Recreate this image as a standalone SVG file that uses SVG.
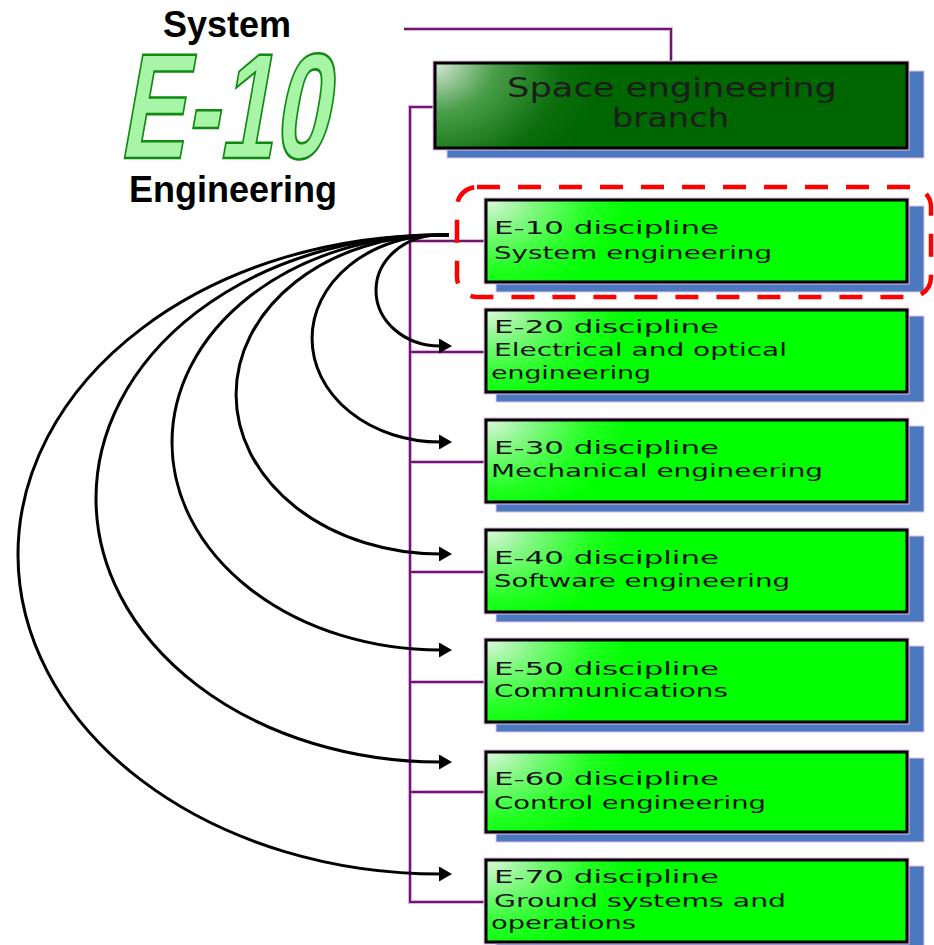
<svg xmlns="http://www.w3.org/2000/svg" width="934" height="945" viewBox="0 0 934 945">
<style>
  .halo{fill:none;stroke:#e8b8e8;stroke-width:5}
  .box{stroke:#000;stroke-width:3}
  .shadow{fill:#4b79c0;stroke:#e8c0e8;stroke-width:1}
  .dtxt{font-family:"DejaVu Sans","Liberation Sans",sans-serif;font-size:18px;fill:#111}
  .ttxt{font-family:"DejaVu Sans","Liberation Sans",sans-serif;font-size:26px;fill:#1c1c1c}
  .lab{font-family:"Liberation Sans",Arial,sans-serif;font-size:36px;font-weight:bold;fill:#000;text-anchor:middle}
  .wireU{fill:none;stroke:#e6aee6;stroke-width:4}
  .wire{fill:none;stroke:#6a1a6a;stroke-width:2}
  .arc{fill:none;stroke:#000;stroke-width:3;marker-end:url(#ah)}
</style>
<defs>
  <radialGradient id="gTop" cx="0" cy="0" r="0.5" gradientTransform="scale(0.72,3.3)">
    <stop offset="0" stop-color="#d8e8d8"/>
    <stop offset="0.35" stop-color="#4a9e4a"/>
    <stop offset="0.75" stop-color="#0b6e0b"/>
    <stop offset="1" stop-color="#006600"/>
  </radialGradient>
  <radialGradient id="gD" cx="0" cy="0" r="0.5" gradientTransform="scale(0.7,2.4)">
    <stop offset="0" stop-color="#e0f6e0"/>
    <stop offset="0.35" stop-color="#7af87a"/>
    <stop offset="0.7" stop-color="#22ff22"/>
    <stop offset="1" stop-color="#00ff00"/>
  </radialGradient>
  <marker id="ah" viewBox="0 0 13 15" refX="1" refY="7.5" markerWidth="13" markerHeight="15" markerUnits="userSpaceOnUse" orient="auto">
    <path d="M0 0 L13 7.5 L0 15 z" fill="#000"/>
  </marker>
</defs>

<g id="title">
  <text class="lab" x="227" y="37">System</text>
  <text x="0" y="0" transform="translate(118,158) skewX(-10) scale(0.66,1)" font-family="Liberation Sans, Arial, sans-serif" font-weight="bold" font-size="150" fill="#a8f5a8" stroke="#108a10" stroke-width="2.5">E-10</text>
  <text class="lab" x="233" y="202">Engineering</text>
</g>

<g id="connectors">
  <path class="wireU" d="M404 29 H671 V63 M435 107 H410 V902 H486 M410 241 H486 M410 352 H486 M410 462 H486 M410 572 H486 M410 682 H486 M410 792 H486"/>
  <path class="wire" d="M404 29 H671 V63 M435 107 H410 V902 H486 M410 241 H486 M410 352 H486 M410 462 H486 M410 572 H486 M410 682 H486 M410 792 H486"/>
  <path class="arc" d="M449 235 H440 A64 55.5 0 0 0 440 346"/>
  <path class="arc" d="M449 235 H440 A128 103.5 0 0 0 440 442"/>
  <path class="arc" d="M449 235 H440 A204 159.5 0 0 0 440 554"/>
  <path class="arc" d="M449 235 H440 A268 207.5 0 0 0 440 650"/>
  <path class="arc" d="M449 235 H440 A344 263.5 0 0 0 440 762"/>
  <path class="arc" d="M449 235 H440 A422 319.5 0 0 0 440 874"/>
</g>

<g id="branch">
  <rect class="shadow" x="447" y="71" width="477" height="87"/>
  <rect class="halo" x="435" y="63" width="472" height="85"/>
  <rect class="box" x="435" y="63" width="472" height="85" fill="url(#gTop)"/>
  <text class="ttxt" x="507" y="97" textLength="330" lengthAdjust="spacingAndGlyphs">Space engineering</text>
  <text class="ttxt" x="612" y="127" textLength="117" lengthAdjust="spacingAndGlyphs">branch</text>
</g>

<g id="e10">
  <rect class="shadow" x="496" y="206" width="428" height="86"/>
  <rect class="halo" x="486" y="200" width="421" height="82"/>
  <rect class="box" x="486" y="200" width="421" height="82" fill="url(#gD)"/>
  <text class="dtxt" x="494" y="234" textLength="225" lengthAdjust="spacingAndGlyphs">E-10 discipline</text>
  <text class="dtxt" x="494" y="259" textLength="278" lengthAdjust="spacingAndGlyphs">System engineering</text>
</g>

<rect id="highlight" x="457" y="187" width="474" height="110" rx="20" fill="none" stroke="#ff0000" stroke-width="4.5" stroke-dasharray="23 18"/>

<g id="e20">
  <rect class="shadow" x="496" y="316" width="428" height="86"/>
  <rect class="halo" x="486" y="310" width="421" height="82"/>
  <rect class="box" x="486" y="310" width="421" height="82" fill="url(#gD)"/>
  <text class="dtxt" x="494" y="333" textLength="225" lengthAdjust="spacingAndGlyphs">E-20 discipline</text>
  <text class="dtxt" x="494" y="356" textLength="293" lengthAdjust="spacingAndGlyphs">Electrical and optical</text>
  <text class="dtxt" x="491" y="379" textLength="160" lengthAdjust="spacingAndGlyphs">engineering</text>
</g>

<g id="e30">
  <rect class="shadow" x="496" y="426" width="428" height="86"/>
  <rect class="halo" x="486" y="420" width="421" height="82"/>
  <rect class="box" x="486" y="420" width="421" height="82" fill="url(#gD)"/>
  <text class="dtxt" x="494" y="454" textLength="225" lengthAdjust="spacingAndGlyphs">E-30 discipline</text>
  <text class="dtxt" x="491" y="477" textLength="332" lengthAdjust="spacingAndGlyphs">Mechanical engineering</text>
</g>

<g id="e40">
  <rect class="shadow" x="496" y="536" width="428" height="86"/>
  <rect class="halo" x="486" y="530" width="421" height="82"/>
  <rect class="box" x="486" y="530" width="421" height="82" fill="url(#gD)"/>
  <text class="dtxt" x="494" y="564" textLength="225" lengthAdjust="spacingAndGlyphs">E-40 discipline</text>
  <text class="dtxt" x="494" y="587" textLength="296" lengthAdjust="spacingAndGlyphs">Software engineering</text>
</g>

<g id="e50">
  <rect class="shadow" x="496" y="646" width="428" height="86"/>
  <rect class="halo" x="486" y="640" width="421" height="82"/>
  <rect class="box" x="486" y="640" width="421" height="82" fill="url(#gD)"/>
  <text class="dtxt" x="494" y="675" textLength="225" lengthAdjust="spacingAndGlyphs">E-50 discipline</text>
  <text class="dtxt" x="494" y="697" textLength="234" lengthAdjust="spacingAndGlyphs">Communications</text>
</g>

<g id="e60">
  <rect class="shadow" x="496" y="758" width="428" height="84"/>
  <rect class="halo" x="486" y="752" width="421" height="80"/>
  <rect class="box" x="486" y="752" width="421" height="80" fill="url(#gD)"/>
  <text class="dtxt" x="494" y="785" textLength="225" lengthAdjust="spacingAndGlyphs">E-60 discipline</text>
  <text class="dtxt" x="494" y="809" textLength="272" lengthAdjust="spacingAndGlyphs">Control engineering</text>
</g>

<g id="e70">
  <rect class="shadow" x="496" y="866" width="428" height="86"/>
  <rect class="halo" x="486" y="860" width="421" height="82"/>
  <rect class="box" x="486" y="860" width="421" height="82" fill="url(#gD)"/>
  <text class="dtxt" x="494" y="883" textLength="225" lengthAdjust="spacingAndGlyphs">E-70 discipline</text>
  <text class="dtxt" x="494" y="907" textLength="292" lengthAdjust="spacingAndGlyphs">Ground systems and</text>
  <text class="dtxt" x="491" y="929" textLength="145" lengthAdjust="spacingAndGlyphs">operations</text>
</g>
</svg>
